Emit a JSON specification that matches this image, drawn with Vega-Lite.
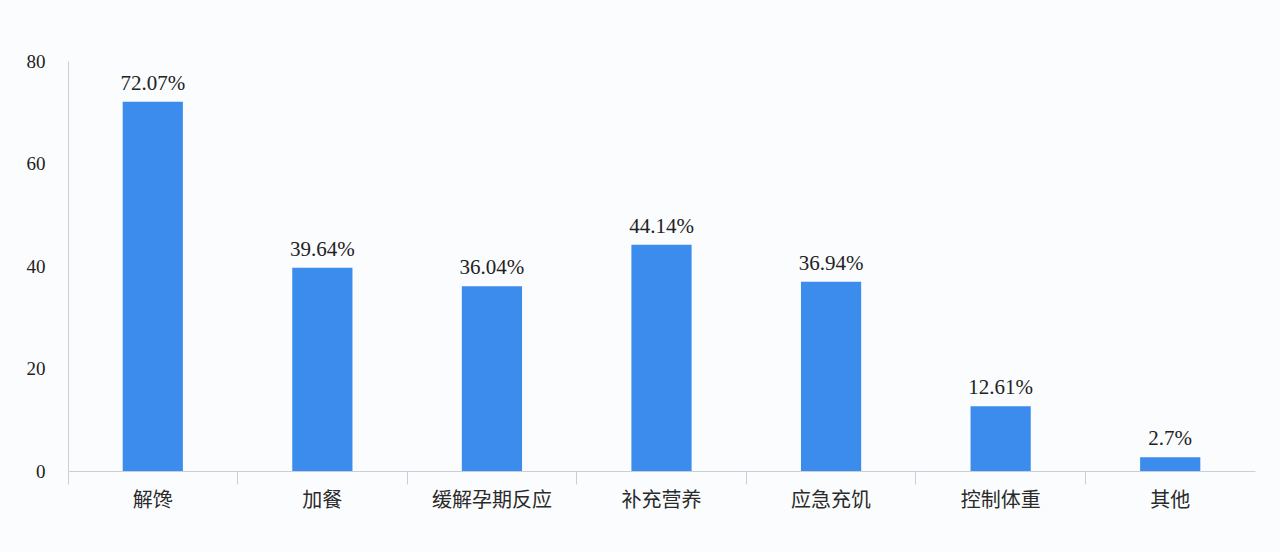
{
  "$schema": "https://vega.github.io/schema/vega-lite/v6.json",
  "autosize": "none",
  "width": 1187,
  "height": 410,
  "padding": {"left": 68, "top": 61, "right": 25, "bottom": 81},
  "background": "#fbfcfe",
  "config": {"view": {"stroke": null}},
  "data": {
    "values": [
      {"category": "解馋", "value": 72.07, "label": "72.07%"},
      {"category": "加餐", "value": 39.64, "label": "39.64%"},
      {"category": "缓解孕期反应", "value": 36.04, "label": "36.04%"},
      {"category": "补充营养", "value": 44.14, "label": "44.14%"},
      {"category": "应急充饥", "value": 36.94, "label": "36.94%"},
      {"category": "控制体重", "value": 12.61, "label": "12.61%"},
      {"category": "其他", "value": 2.7, "label": "2.7%"}
    ]
  },
  "encoding": {
    "x": {
      "field": "category",
      "type": "nominal",
      "sort": null,
      "scale": {"paddingInner": 0, "paddingOuter": 0},
      "axis": {
        "title": null,
        "labelAngle": 0,
        "bandPosition": 0,
        "labelFont": "Noto Sans CJK SC",
        "labelFontSize": 20,
        "labelColor": "#2a2a2a",
        "labelPadding": 6,
        "domainColor": "#c9ced9",
        "tickColor": "#c9ced9",
        "tickSize": 13,
        "grid": false
      }
    },
    "y": {
      "field": "value",
      "type": "quantitative",
      "scale": {"domain": [0, 80]},
      "axis": {
        "title": null,
        "values": [0, 20, 40, 60, 80],
        "ticks": false,
        "grid": false,
        "labelFont": "Liberation Serif",
        "labelFontSize": 19,
        "labelColor": "#222222",
        "labelPadding": 23,
        "domainColor": "#c9ced9"
      }
    }
  },
  "layer": [
    {
      "mark": {"type": "bar", "color": "#3b8ced", "width": {"band": 0.355}}
    },
    {
      "mark": {
        "type": "text",
        "baseline": "bottom",
        "dy": -8,
        "font": "Liberation Serif",
        "fontSize": 21,
        "color": "#222222"
      },
      "encoding": {"text": {"field": "label"}}
    }
  ]
}
